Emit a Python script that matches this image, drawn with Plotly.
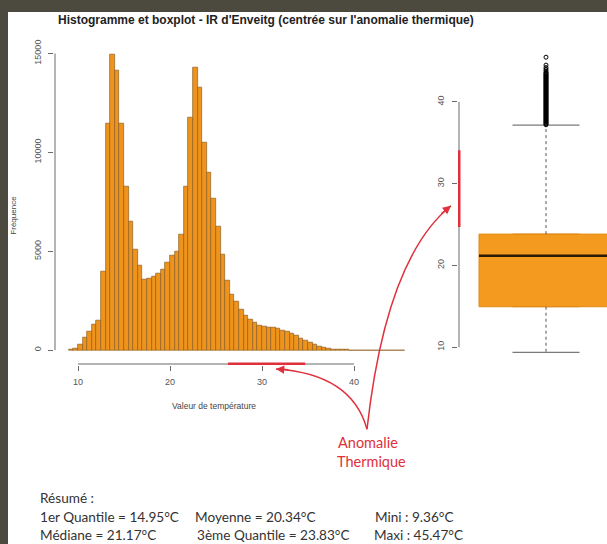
import plotly.graph_objects as go

W, H = 607, 544

# ---------------- data ----------------
bin_lefts = [9.0, 9.5, 10.0, 10.5, 11.0, 11.5, 12.0, 12.5, 13.0, 13.5,
             14.0, 14.5, 15.0, 15.5, 16.0, 16.5, 17.0, 17.5, 18.0, 18.5,
             19.0, 19.5, 20.0, 20.5, 21.0, 21.5, 22.0, 22.5, 23.0, 23.5,
             24.0, 24.5, 25.0, 25.5, 26.0, 26.5, 27.0, 27.5, 28.0, 28.5,
             29.0, 29.5, 30.0, 30.5, 31.0, 31.5, 32.0, 32.5, 33.0, 33.5,
             34.0, 34.5, 35.0, 35.5, 36.0, 36.5, 37.0, 37.5, 38.0, 38.5,
             39.0, 39.5, 40.0, 40.5, 41.0, 41.5, 42.0, 42.5, 43.0, 43.5,
             44.0, 44.5, 45.0]
counts = [20, 60, 300, 650, 950, 1270, 1520, 3950, 11450, 14930,
          14150, 11450, 8250, 6500, 5070, 4270, 3570, 3600, 3700, 3850,
          4100, 4450, 4800, 5000, 5870, 8270, 11780, 14270, 13270, 10500,
          8980, 7650, 6270, 4820, 3530, 2820, 2480, 2070, 1730, 1570,
          1400, 1250, 1200, 1150, 1120, 1080, 1000, 920, 830, 720,
          600, 480, 380, 280, 190, 120, 70, 40, 25, 15,
          8, 5, 4, 3, 2, 2, 1, 1, 1, 1,
          1, 1, 1]
bin_width = 0.5

hist_xticks = [10, 20, 30, 40]
hist_xticktext = ["10", "20", "30", "40"]
hist_yticks = [0, 5000, 10000, 15000]
hist_yticktext = ["0", "5000", "10000", "15000"]
box_yticks = [10, 20, 30, 40]
box_yticktext = ["10", "20", "30", "40"]

q1, median, q3 = 14.95, 21.17, 23.83
mean_val = 20.34
mini, maxi = 9.36, 45.47
upper_whisker = 37.15
outliers = [37.2, 37.3, 37.4, 37.5, 37.6, 37.7, 37.8, 37.9, 38.0, 38.1,
            38.2, 38.3, 38.4, 38.5, 38.6, 38.7, 38.8, 38.9, 39.0, 39.1,
            39.2, 39.3, 39.4, 39.5, 39.6, 39.7, 39.8, 39.9, 40.0, 40.1,
            40.2, 40.3, 40.4, 40.5, 40.6, 40.7, 40.8, 40.9, 41.0, 41.1,
            41.2, 41.3, 41.4, 41.5, 41.6, 41.7, 41.8, 41.9, 42.0, 42.1,
            42.2, 42.3, 42.4, 42.5, 42.6, 42.7, 42.8, 42.9, 43.0, 43.1,
            43.2, 43.3, 43.4, 43.5, 43.6, 43.8, 44.0, 44.2, 44.5, 45.47]

anomaly_hist = (26.3, 34.7)
anomaly_box = (24.7, 34.1)

# ---------------- helpers ----------------
def px(x):
    return x / W

def py(y):
    return 1 - y / H

ORANGE = "#EE931B"
BOX_ORANGE = "#F39A1F"
RED = "#E0303C"
AX = "#6a6a6a"

bar_centers = [b + bin_width / 2 for b in bin_lefts]

fig = go.Figure()

fig.add_trace(go.Bar(
    x=bar_centers, y=counts, width=bin_width,
    marker=dict(color=ORANGE, line=dict(color="#8f5e22", width=0.7)),
    xaxis="x", yaxis="y", showlegend=False, hoverinfo="skip"))

# Box plot
fig.add_trace(go.Box(
    x=[1], q1=[q1], median=[median], q3=[q3],
    lowerfence=[q1], upperfence=[q3], width=0.8,
    fillcolor=BOX_ORANGE, line=dict(color="#E08A18", width=1),
    boxpoints=False, xaxis="x2", yaxis="y2", showlegend=False, hoverinfo="skip"))

# whiskers (dashed)
fig.add_trace(go.Scatter(x=[1, 1], y=[q3, upper_whisker], mode="lines",
                         line=dict(color="#555555", width=1, dash="dot"),
                         xaxis="x2", yaxis="y2", showlegend=False, hoverinfo="skip"))
fig.add_trace(go.Scatter(x=[1, 1], y=[q1, mini], mode="lines",
                         line=dict(color="#555555", width=1, dash="dot"),
                         xaxis="x2", yaxis="y2", showlegend=False, hoverinfo="skip"))
# caps
for v in (upper_whisker, mini):
    fig.add_trace(go.Scatter(x=[0.8, 1.2], y=[v, v], mode="lines",
                             line=dict(color="#7a7a7a", width=1.3),
                             xaxis="x2", yaxis="y2", showlegend=False, hoverinfo="skip"))
# median
fig.add_trace(go.Scatter(x=[0.6, 1.4], y=[median, median], mode="lines",
                         line=dict(color="#2a1a08", width=2.5),
                         xaxis="x2", yaxis="y2", showlegend=False, hoverinfo="skip"))
# outliers
fig.add_trace(go.Scatter(x=[1] * len(outliers), y=outliers, mode="markers",
                         marker=dict(symbol="circle-open", size=4, color="black",
                                     line=dict(width=1)),
                         xaxis="x2", yaxis="y2", showlegend=False, hoverinfo="skip"))

# ---------------- axes ----------------
ppd_x = 9.2  # px per degree (hist)
x0_px = 78
hx_dom = (54, 420)
hx_range = [10 - (x0_px - hx_dom[0]) / ppd_x, 10 + (hx_dom[1] - x0_px) / ppd_x]
ppc = 0.02  # px per count
y0_px = 348
hy_dom = (40, 363)
hy_range = [-(hy_dom[1] - y0_px) / ppc, (y0_px - hy_dom[0]) / ppc]
x_axis_line_y = hy_range[0] + 1.0 / ppc     # one pixel inside the plot area
y_axis_line_x = hx_range[0] + 1.0 / ppd_x

bx_dom = (458, 607)
bx_range = [1 - (546 - bx_dom[0]) / 167.5, 1 + (bx_dom[1] - 546) / 167.5]
by_dom = (40, 360)
ppd_b = 8.27
by_range = [10 - (by_dom[1] - 345) / ppd_b, 40 + (97 - by_dom[0]) / ppd_b]
box_axis_line_x = bx_range[0] + 1.0 / 167.5

tickfont = dict(family="Liberation Sans, Arial, sans-serif", size=9, color="#555555")

fig.update_layout(
    width=W, height=H, autosize=False,
    margin=dict(l=0, r=0, t=0, b=0),
    paper_bgcolor="#4c4a3f", plot_bgcolor="rgba(0,0,0,0)",
    bargap=0,
    xaxis=dict(domain=[px(hx_dom[0]), px(hx_dom[1])], range=hx_range,
               tickvals=hist_xticks, ticktext=hist_xticktext,
               ticks="outside", ticklen=5, tickcolor=AX,
               showline=False, zeroline=False, showgrid=False, tickfont=tickfont,
               ticklabelstandoff=3, anchor="y"),
    yaxis=dict(domain=[py(hy_dom[1]), py(hy_dom[0])], range=hy_range,
               tickvals=hist_yticks, ticktext=hist_yticktext,
               ticks="outside", ticklen=5, tickcolor=AX,
               tickangle=-90, showline=False, zeroline=False, showgrid=False,
               tickfont=tickfont, ticklabelstandoff=3, anchor="x"),
    xaxis2=dict(domain=[px(bx_dom[0]), px(bx_dom[1])], range=bx_range,
                visible=False, anchor="y2"),
    yaxis2=dict(domain=[py(by_dom[1]), py(by_dom[0])], range=by_range,
                tickvals=box_yticks, ticktext=box_yticktext,
                ticks="outside", ticklen=5, tickcolor=AX,
                tickangle=-90, showline=False, zeroline=False, showgrid=False,
                tickfont=tickfont, ticklabelstandoff=4, anchor="x2"),
)

shapes = []
# white page
shapes.append(dict(type="rect", xref="paper", yref="paper", x0=px(8), x1=1.0,
                   y0=0, y1=py(6), fillcolor="white", line=dict(width=0), layer="below"))
# hist axes lines
shapes.append(dict(type="line", xref="x", yref="y", x0=10, x1=40,
                   y0=x_axis_line_y, y1=x_axis_line_y, line=dict(color=AX, width=1)))
shapes.append(dict(type="line", xref="x", yref="y", x0=y_axis_line_x, x1=y_axis_line_x,
                   y0=0, y1=15000, line=dict(color=AX, width=1)))
# anomaly on hist axis
shapes.append(dict(type="line", xref="x", yref="y", x0=anomaly_hist[0], x1=anomaly_hist[1],
                   y0=x_axis_line_y, y1=x_axis_line_y, line=dict(color=RED, width=3)))
# box axis line
shapes.append(dict(type="line", xref="x2", yref="y2", x0=box_axis_line_x, x1=box_axis_line_x,
                   y0=10, y1=40, line=dict(color=AX, width=1)))
shapes.append(dict(type="line", xref="x2", yref="y2", x0=box_axis_line_x, x1=box_axis_line_x,
                   y0=anomaly_box[0], y1=anomaly_box[1], line=dict(color=RED, width=3)))

# curved arrows (paper coords)
def qpath(p0, p1, p2):
    return "M {:.5f},{:.5f} Q {:.5f},{:.5f} {:.5f},{:.5f}".format(
        px(p0[0]), py(p0[1]), px(p1[0]), py(p1[1]), px(p2[0]), py(p2[1]))

start = (367, 428)
end1 = (276, 367)
ctrl1 = (352, 372)
end2 = (451, 202)
ctrl2 = (386, 255)
shapes.append(dict(type="path", xref="paper", yref="paper", path=qpath(start, ctrl1, end1),
                   line=dict(color=RED, width=1.5)))
shapes.append(dict(type="path", xref="paper", yref="paper", path=qpath(start, ctrl2, end2),
                   line=dict(color=RED, width=1.5)))

fig.update_layout(shapes=shapes)

ann = []
ann.append(dict(text="<b>Histogramme et boxplot - IR d'Enveitg (centrée sur l'anomalie thermique)</b>",
                x=px(266), y=py(14), xref="paper", yref="paper", showarrow=False,
                font=dict(family="Liberation Sans, Arial, sans-serif", size=12, color="#222222"),
                xanchor="center", yanchor="middle"))
ann.append(dict(text="Fréquence", x=px(14), y=py(212), xref="paper", yref="paper",
                showarrow=False, textangle=-90,
                font=dict(family="Liberation Sans, Arial, sans-serif", size=8, color="#444444"),
                xanchor="center", yanchor="middle"))
ann.append(dict(text="Valeur de température", x=px(214), y=py(404), xref="paper", yref="paper",
                showarrow=False,
                font=dict(family="Liberation Sans, Arial, sans-serif", size=8.5, color="#444444"),
                xanchor="center", yanchor="middle"))
ann.append(dict(text="Anomalie", x=px(368), y=py(441), xref="paper", yref="paper",
                showarrow=False, font=dict(family="Lato, sans-serif", size=14.5, color=RED),
                xanchor="center", yanchor="middle"))
ann.append(dict(text="Thermique", x=px(371), y=py(461), xref="paper", yref="paper",
                showarrow=False, font=dict(family="Lato, sans-serif", size=14.5, color=RED),
                xanchor="center", yanchor="middle"))

# arrow heads
ann.append(dict(text="", x=px(end1[0]), y=py(end1[1]), xref="paper", yref="paper",
                showarrow=True, ax=14, ay=1, arrowhead=2, arrowsize=1.1, arrowwidth=1.5,
                arrowcolor=RED, standoff=0))
ann.append(dict(text="", x=px(end2[0]), y=py(end2[1]), xref="paper", yref="paper",
                showarrow=True, ax=-11, ay=9, arrowhead=2, arrowsize=1.1, arrowwidth=1.5,
                arrowcolor=RED, standoff=0))

summary = [
    ("Résumé :", 38, 497),
    ("1er Quantile = {:.2f}°C".format(q1), 38, 517),
    ("Médiane = {:.2f}°C".format(median), 38, 535),
    ("Moyenne = {:.2f}°C".format(mean_val), 193, 517),
    ("3ème Quantile = {:.2f}°C".format(q3), 195, 535),
    ("Mini : {:.2f}°C".format(mini), 373, 517),
    ("Maxi : {:.2f}°C".format(maxi), 372, 535),
]
for t, x, y in summary:
    ann.append(dict(text=t, x=px(x), y=py(y), xref="paper", yref="paper", showarrow=False,
                    font=dict(family="Lato, sans-serif", size=13.6, color="#333333"),
                    xanchor="left", yanchor="middle"))

fig.update_layout(annotations=ann)

fig.write_html(
    "out.html",
    config={"displayModeBar": False},
    post_script="document.body.style.margin='0';document.body.style.padding='0';"
                "document.body.style.overflow='hidden';",
)
